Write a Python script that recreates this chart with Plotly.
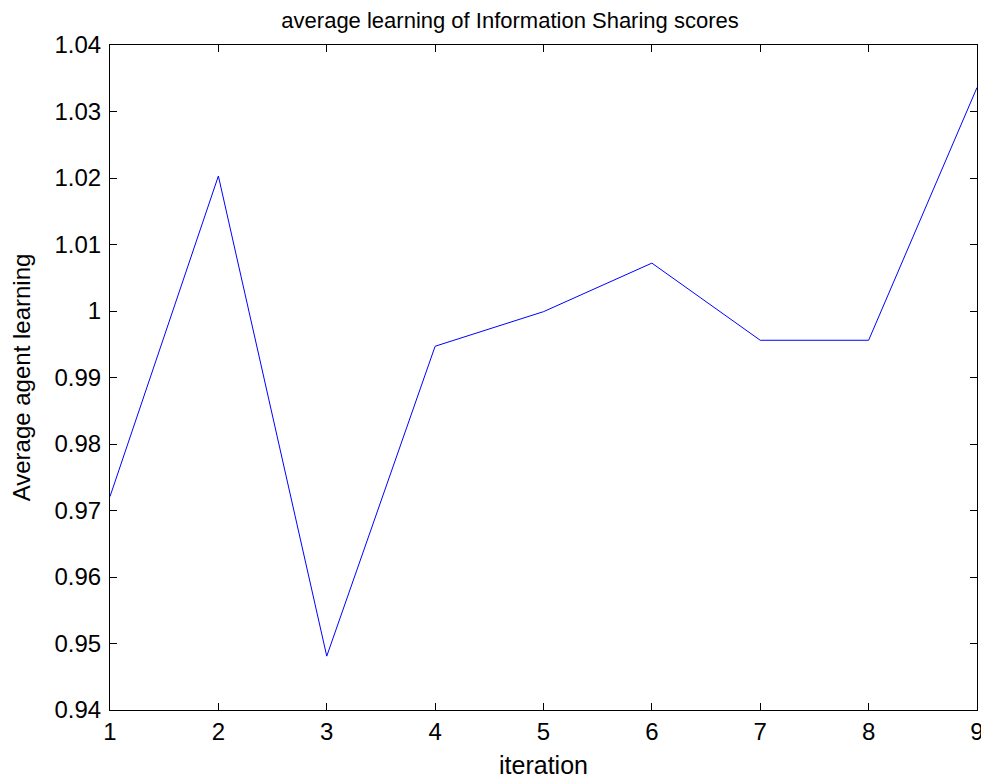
import plotly.graph_objects as go

iterations = [1, 2, 3, 4, 5, 6, 7, 8, 9]
avg_learning = [0.9721, 1.0203, 0.9481, 0.9947, 0.9999, 1.0072, 0.9956, 0.9956, 1.0336]

x_tickvals = [1, 2, 3, 4, 5, 6, 7, 8, 9]
x_ticktext = ["1", "2", "3", "4", "5", "6", "7", "8", "9"]
y_tickvals = [0.94, 0.95, 0.96, 0.97, 0.98, 0.99, 1.00, 1.01, 1.02, 1.03, 1.04]
y_ticktext = ["0.94", "0.95", "0.96", "0.97", "0.98", "0.99", "1", "1.01", "1.02", "1.03", "1.04"]

FONT = "Liberation Sans, Arial, sans-serif"

fig = go.Figure()
fig.add_trace(go.Scatter(
    x=iterations, y=avg_learning, mode="lines",
    line=dict(color="#0000FF", width=1),
    showlegend=False, hoverinfo="x+y",
))

axis_common = dict(
    showgrid=False, zeroline=False, automargin=False,
    showline=True, linecolor="black", linewidth=1, mirror="ticks",
    ticks="inside", ticklen=7, tickcolor="black", tickwidth=1,
    tickfont=dict(family=FONT, size=24, color="black"),
)

fig.update_layout(
    width=989, height=782,
    paper_bgcolor="white", plot_bgcolor="white",
    margin=dict(l=102, r=20, t=37, b=80),
    title=dict(text="average learning of Information Sharing scores",
               font=dict(family=FONT, size=22, color="black"),
               x=0.4614, xanchor="center", xref="paper", y=0.994, yanchor="top",
               pad=dict(t=0, b=0, l=0, r=0)),
    xaxis=dict(range=[1, 9], tickmode="array", tickvals=x_tickvals, ticktext=x_ticktext,
               title=dict(text="iteration", font=dict(family=FONT, size=25, color="black"), standoff=12),
               **axis_common),
    yaxis=dict(range=[0.94, 1.04], tickmode="array", tickvals=y_tickvals, ticktext=y_ticktext,
               ticklabelstandoff=3,
               title=dict(text="Average agent learning", font=dict(family=FONT, size=24, color="black"), standoff=22),
               **axis_common),
)

fig.write_html("out.html")
